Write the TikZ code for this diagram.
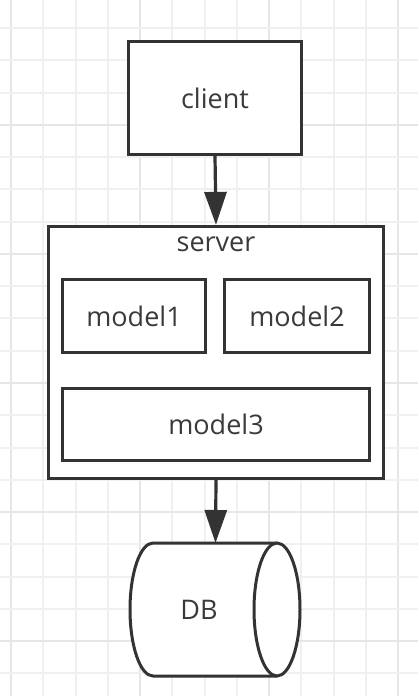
\documentclass[tikz,border=0pt]{standalone}
\usepackage{fontspec}
\setmainfont{Open Sans}
\usetikzlibrary{arrows.meta}
\definecolor{ink}{HTML}{333333}
\definecolor{txt}{HTML}{3A3A3A}
\definecolor{gridminor}{HTML}{F0F0F0}
\definecolor{gridmajor}{HTML}{E6E6E6}
\tikzset{
  box/.style={draw=ink, line width=3.2pt, fill=white, rectangle, inner sep=0pt},
  lbl/.style={text=txt, font=\fontsize{27}{32}\selectfont, inner sep=0pt},
  flow/.style={draw=ink, line width=3.2pt, -{Triangle[width=22pt,length=33pt]}},
  dbline/.style={draw=ink, line width=3pt, fill=white},
}
\begin{document}
\begin{tikzpicture}[x=1pt,y=-1pt]
  \useasboundingbox (0,0) rectangle (418,696);
  \fill[white] (0,0) rectangle (418,696);
  % background grid
  \foreach \k in {0,...,12} {
    \pgfmathsetmacro{\gx}{11+32.27*\k}
    \pgfmathtruncatemacro{\major}{mod(\k,4)==0}
    \ifnum\major=1
      \draw[gridmajor, line width=2pt] (\gx,0) -- (\gx,696);
    \else
      \draw[gridminor, line width=2pt] (\gx,0) -- (\gx,696);
    \fi
  }
  \foreach \k in {0,...,20} {
    \pgfmathsetmacro{\gy}{28+32.27*\k}
    \pgfmathtruncatemacro{\major}{mod(\k,4)==3}
    \ifnum\major=1
      \draw[gridmajor, line width=2pt] (0,\gy) -- (418,\gy);
    \else
      \draw[gridminor, line width=2pt] (0,\gy) -- (418,\gy);
    \fi
  }

  % client
  \node[box, minimum width=173pt, minimum height=113pt] (client) at (215,98) {};
  \node[lbl] (clienttext) at (215,98) {client};

  % server container with its modules
  \node[box, minimum width=335pt, minimum height=252pt] (server) at (216,352.5) {};
  \node[lbl] (servertitle) at (216,244) {server};
  \node[box, minimum width=143pt, minimum height=73pt] (model1) at (134,316) {};
  \node[lbl] (m1text) at (134,316) {model1};
  \node[box, minimum width=145pt, minimum height=73pt] (model2) at (297,316) {};
  \node[lbl] (m2text) at (297,316) {model2};
  \node[box, minimum width=307pt, minimum height=72pt] (model3) at (216,424.5) {};
  \node[lbl] (m3text) at (216,424.5) {model3};

  % database: horizontal cylinder, open end facing right
  \draw[dbline] (277,543) -- (153,543)
    arc[start angle=270, end angle=90, x radius=23, y radius=66.5]
    -- (277,676);
  \draw[dbline] (277,609.5) ellipse[x radius=23, y radius=66.5];
  \coordinate (dbtop) at (215.5,543);
  \node[lbl] (dbtext) at (199,609.5) {DB};

  % connectors
  \draw[flow] (client.south) -- (server.north);
  \draw[flow] (server.south) -- (dbtop);
\end{tikzpicture}
\end{document}
